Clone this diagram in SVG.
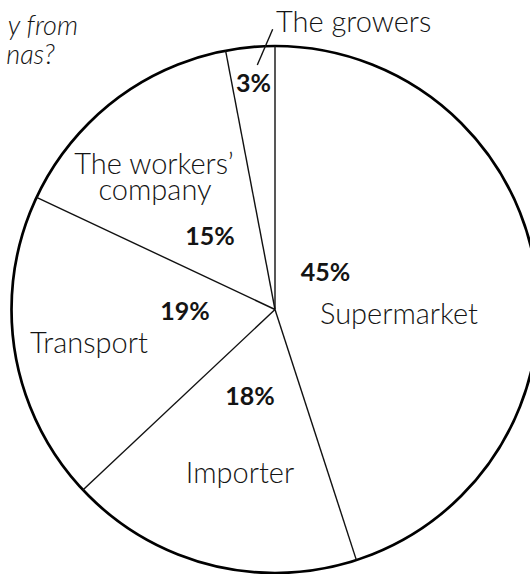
<svg xmlns="http://www.w3.org/2000/svg" width="530" height="574" viewBox="0 0 530 574">
<style>
.lbl{font-family:Lato,"Noto Sans","Liberation Sans",sans-serif;font-size:29px;font-weight:300;fill:#141414;}
.pct{font-family:Lato,"Noto Sans","Liberation Sans",sans-serif;font-size:25px;font-weight:bold;fill:#141414;text-anchor:middle;}
.ttl{font-family:Lato,"Noto Sans","Liberation Sans",sans-serif;font-size:27px;font-weight:300;font-style:italic;fill:#141414;text-anchor:end;}
.div{stroke:#111;stroke-width:1.4;fill:none;}
</style>
<rect width="530" height="574" fill="#fff"/>
<g id="title">
<text class="ttl" x="78" y="35">y from</text>
<text class="ttl" x="55" y="63.5">nas?</text>
</g>
<g id="pie">
<circle cx="275" cy="309.5" r="263.5" fill="#fff" stroke="#000" stroke-width="2.7"/>
</g>
<g id="connectors">
<line class="div" x1="275" y1="309.5" x2="275" y2="46"/>
<line class="div" x1="275" y1="309.5" x2="225.6" y2="50.7"/>
<line class="div" x1="275" y1="309.5" x2="36.6" y2="197.3"/>
<line class="div" x1="275" y1="309.5" x2="82.9" y2="489.9"/>
<line class="div" x1="275" y1="309.5" x2="356.4" y2="560.1"/>
<line class="div" x1="257.3" y1="65" x2="272.7" y2="29.3"/>
</g>
<g id="growers">
<text class="lbl" x="276" y="31.5">The growers</text>
<text class="pct" x="253.5" y="91.5">3%</text>
</g>
<g id="workers">
<text class="lbl" x="154" y="173.5" text-anchor="middle" font-size="28">The workers’</text>
<text class="lbl" x="155" y="200" text-anchor="middle" font-size="28">company</text>
<text class="pct" x="210" y="245">15%</text>
</g>
<g id="transport">
<text class="pct" x="185" y="320">19%</text>
<text class="lbl" x="89" y="353" text-anchor="middle">Transport</text>
</g>
<g id="importer">
<text class="pct" x="250" y="405">18%</text>
<text class="lbl" x="240" y="483" text-anchor="middle">Importer</text>
</g>
<g id="supermarket">
<text class="pct" x="325.5" y="280.5">45%</text>
<text class="lbl" x="399" y="324" text-anchor="middle">Supermarket</text>
</g>
</svg>
